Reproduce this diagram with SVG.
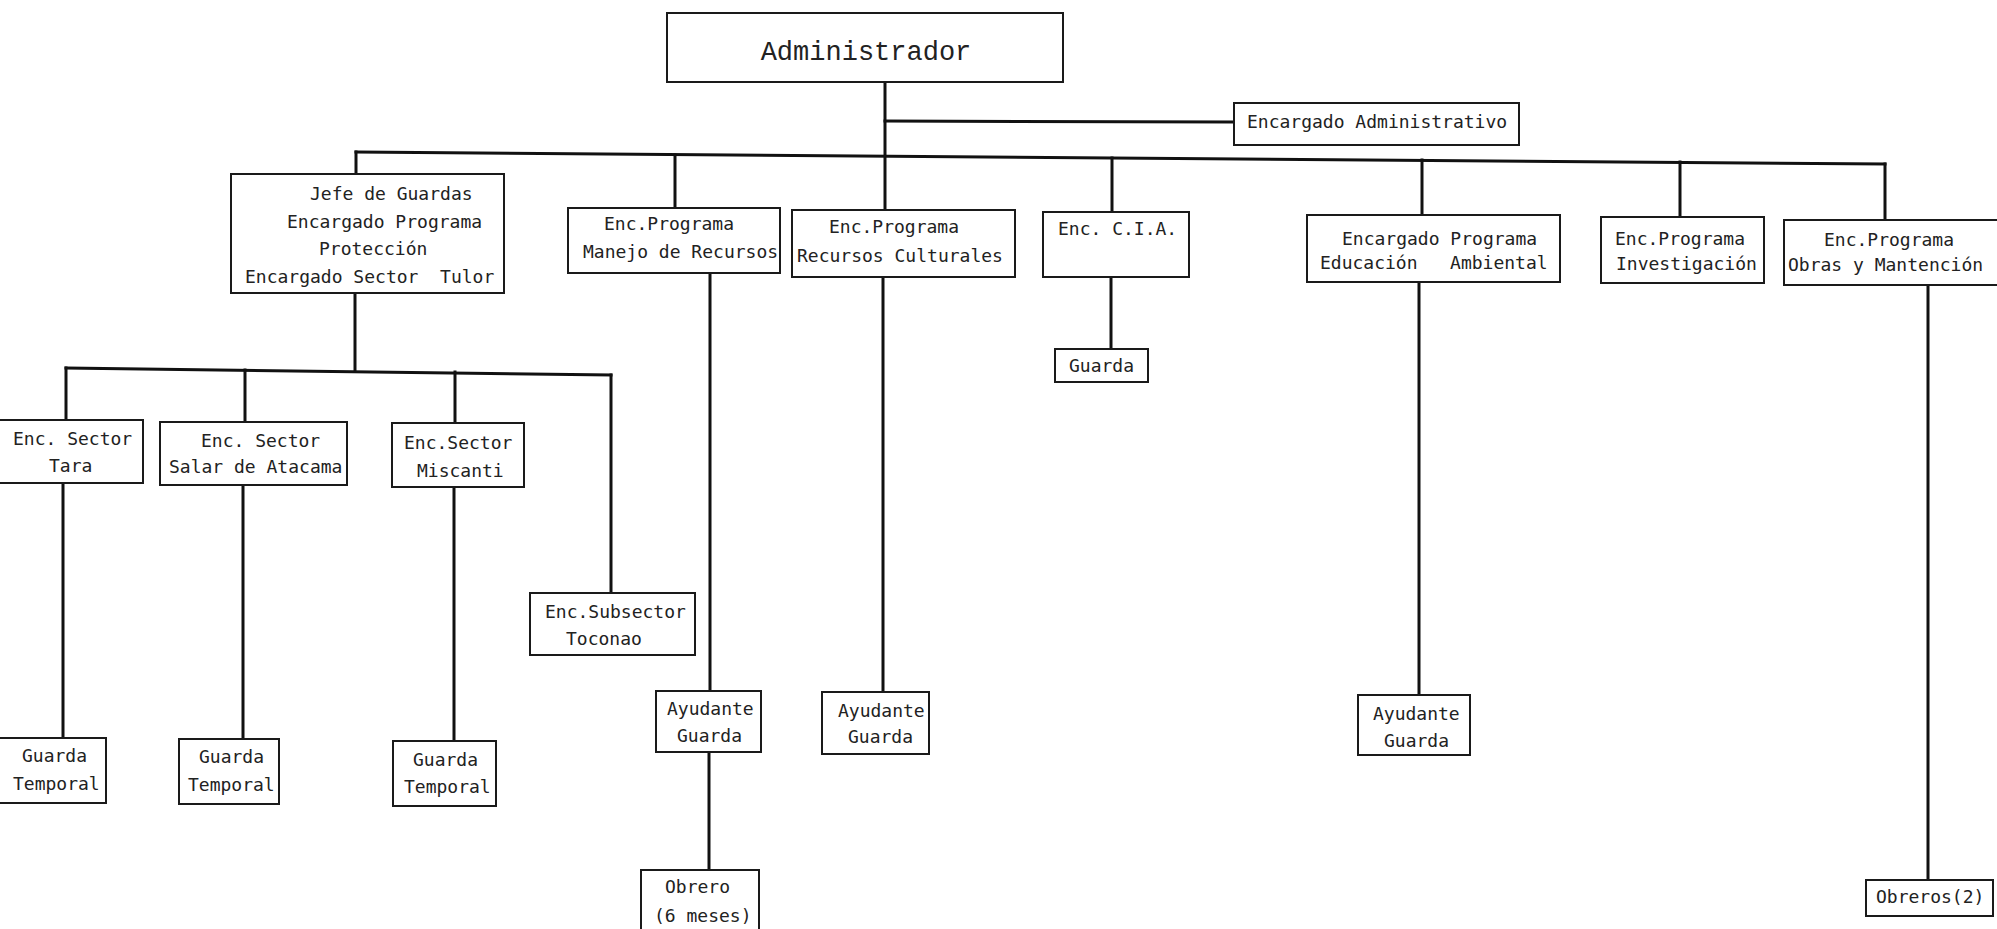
<svg xmlns="http://www.w3.org/2000/svg" width="1997" height="929" viewBox="0 0 1997 929">
<style>
.bg{fill:#ffffff}
.box{fill:#ffffff;stroke:#1a1a1a;stroke-width:2}
.con{stroke:#111111;stroke-width:3;fill:none;stroke-linecap:square}
.t{font-family:"DejaVu Sans Mono","Liberation Mono",monospace;font-size:18px;fill:#222222}
.big{font-family:"Liberation Mono","DejaVu Sans Mono",monospace;font-size:27px;fill:#222222}
</style>
<rect class="bg" x="0" y="0" width="1997" height="929"/>
<g id="connectors">
<line class="con" x1="885" y1="82" x2="885" y2="210"/>
<line class="con" x1="885" y1="121" x2="1234" y2="122"/>
<line class="con" x1="356" y1="152" x2="1885" y2="164"/>
<line class="con" x1="1885" y1="164" x2="1885" y2="220"/>
<line class="con" x1="356" y1="152" x2="356" y2="174"/>
<line class="con" x1="675" y1="155" x2="675" y2="208"/>
<line class="con" x1="1112" y1="158" x2="1112" y2="212"/>
<line class="con" x1="1422" y1="160" x2="1422" y2="215"/>
<line class="con" x1="1680" y1="162" x2="1680" y2="217"/>
<line class="con" x1="355" y1="293" x2="355" y2="371"/>
<line class="con" x1="66" y1="368" x2="611" y2="375"/>
<line class="con" x1="66" y1="368" x2="66" y2="420"/>
<line class="con" x1="245" y1="370" x2="245" y2="422"/>
<line class="con" x1="455" y1="372" x2="455" y2="423"/>
<line class="con" x1="611" y1="375" x2="611" y2="593"/>
<line class="con" x1="63" y1="483" x2="63" y2="738"/>
<line class="con" x1="243" y1="485" x2="243" y2="739"/>
<line class="con" x1="454" y1="487" x2="454" y2="741"/>
<line class="con" x1="710" y1="273" x2="710" y2="691"/>
<line class="con" x1="709" y1="752" x2="709" y2="870"/>
<line class="con" x1="883" y1="277" x2="883" y2="692"/>
<line class="con" x1="1111" y1="277" x2="1111" y2="349"/>
<line class="con" x1="1419" y1="282" x2="1419" y2="695"/>
<line class="con" x1="1928" y1="285" x2="1928" y2="880"/>
</g>
<g id="n-administrador">
<rect class="box" x="667" y="13" width="396" height="69"/>
<text class="big" x="866" y="60" text-anchor="middle">Administrador</text>
</g>
<g id="n-enc-administrativo">
<rect class="box" x="1234" y="103" width="285" height="42"/>
<text class="t" x="1247" y="128">Encargado Administrativo</text>
</g>
<g id="n-jefe-guardas">
<rect class="box" x="231" y="174" width="273" height="119"/>
<text class="t" x="310" y="200">Jefe de Guardas</text>
<text class="t" x="287" y="228">Encargado Programa</text>
<text class="t" x="319" y="255">Protección</text>
<text class="t" x="245" y="283" xml:space="preserve">Encargado Sector  Tulor</text>
</g>
<g id="n-manejo">
<rect class="box" x="568" y="208" width="212" height="65"/>
<text class="t" x="604" y="230">Enc.Programa</text>
<text class="t" x="583" y="258">Manejo de Recursos</text>
</g>
<g id="n-culturales">
<rect class="box" x="792" y="210" width="223" height="67"/>
<text class="t" x="829" y="233">Enc.Programa</text>
<text class="t" x="797" y="262">Recursos Culturales</text>
</g>
<g id="n-cia">
<rect class="box" x="1043" y="212" width="146" height="65"/>
<text class="t" x="1058" y="235">Enc. C.I.A.</text>
</g>
<g id="n-educacion">
<rect class="box" x="1307" y="215" width="253" height="67"/>
<text class="t" x="1342" y="245">Encargado Programa</text>
<text class="t" x="1320" y="269" xml:space="preserve">Educación   Ambiental</text>
</g>
<g id="n-investigacion">
<rect class="box" x="1601" y="217" width="163" height="66"/>
<text class="t" x="1615" y="245">Enc.Programa</text>
<text class="t" x="1616" y="270">Investigación</text>
</g>
<g id="n-obras">
<rect class="box" x="1784" y="220" width="216" height="65"/>
<text class="t" x="1824" y="246">Enc.Programa</text>
<text class="t" x="1788" y="271">Obras y Mantención</text>
</g>
<g id="n-sector-tara">
<rect class="box" x="-3" y="420" width="146" height="63"/>
<text class="t" x="13" y="445">Enc. Sector</text>
<text class="t" x="49" y="472">Tara</text>
</g>
<g id="n-sector-salar">
<rect class="box" x="160" y="422" width="187" height="63"/>
<text class="t" x="201" y="447">Enc. Sector</text>
<text class="t" x="169" y="473">Salar de Atacama</text>
</g>
<g id="n-sector-miscanti">
<rect class="box" x="392" y="423" width="132" height="64"/>
<text class="t" x="404" y="449">Enc.Sector</text>
<text class="t" x="417" y="477">Miscanti</text>
</g>
<g id="n-subsector-toconao">
<rect class="box" x="530" y="593" width="165" height="62"/>
<text class="t" x="545" y="618">Enc.Subsector</text>
<text class="t" x="566" y="645">Toconao</text>
</g>
<g id="n-guarda-cia">
<rect class="box" x="1055" y="349" width="93" height="33"/>
<text class="t" x="1069" y="372">Guarda</text>
</g>
<g id="n-guarda-temporal-1">
<rect class="box" x="-3" y="738" width="109" height="65"/>
<text class="t" x="22" y="762">Guarda</text>
<text class="t" x="13" y="790">Temporal</text>
</g>
<g id="n-guarda-temporal-2">
<rect class="box" x="179" y="739" width="100" height="65"/>
<text class="t" x="199" y="763">Guarda</text>
<text class="t" x="188" y="791">Temporal</text>
</g>
<g id="n-guarda-temporal-3">
<rect class="box" x="393" y="741" width="103" height="65"/>
<text class="t" x="413" y="766">Guarda</text>
<text class="t" x="404" y="793">Temporal</text>
</g>
<g id="n-ayudante-1">
<rect class="box" x="656" y="691" width="105" height="61"/>
<text class="t" x="667" y="715">Ayudante</text>
<text class="t" x="677" y="742">Guarda</text>
</g>
<g id="n-obrero">
<rect class="box" x="641" y="870" width="118" height="62"/>
<text class="t" x="665" y="893">Obrero</text>
<text class="t" x="654" y="922">(6 meses)</text>
</g>
<g id="n-ayudante-2">
<rect class="box" x="822" y="692" width="107" height="62"/>
<text class="t" x="838" y="717">Ayudante</text>
<text class="t" x="848" y="743">Guarda</text>
</g>
<g id="n-ayudante-3">
<rect class="box" x="1358" y="695" width="112" height="60"/>
<text class="t" x="1373" y="720">Ayudante</text>
<text class="t" x="1384" y="747">Guarda</text>
</g>
<g id="n-obreros-2">
<rect class="box" x="1866" y="880" width="127" height="36"/>
<text class="t" x="1876" y="903">Obreros(2)</text>
</g>
</svg>
